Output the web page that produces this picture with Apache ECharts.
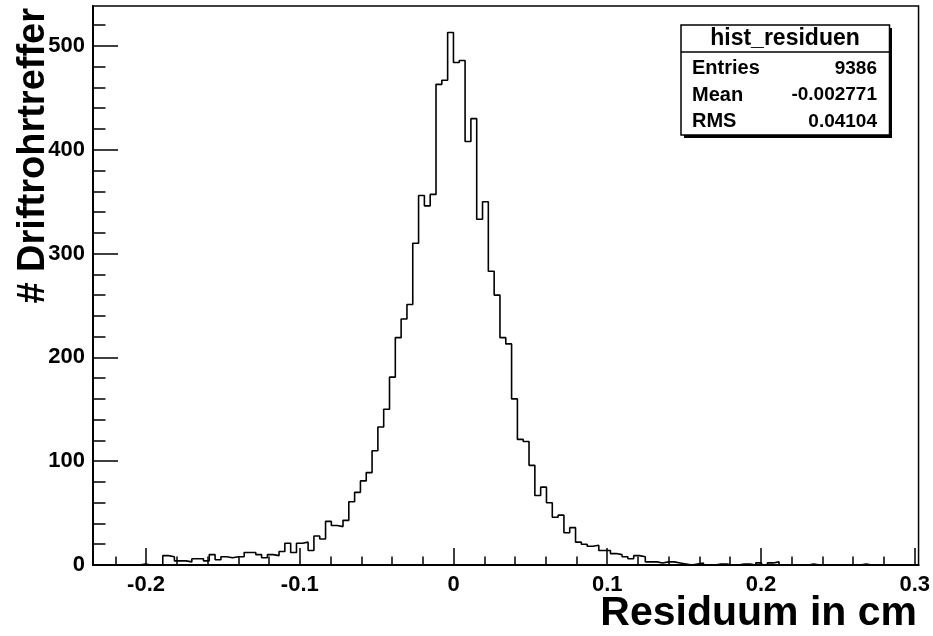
<!DOCTYPE html>
<html>
<head>
<meta charset="utf-8">
<script src="https://cdn.jsdelivr.net/npm/echarts@6/dist/echarts.min.js"></script>
<style>
html,body{margin:0;padding:0;background:#fff;}
#chart{width:933px;height:636px;}
</style>
</head>
<body>
<div id="chart"></div>
<script>
// ---- data ----
const binMin = -0.2345;
const binMax = 0.3025;
const nBins = 142;
const counts = [
  0,0,0,0,0,0,0,0,1,0,0,0,9,8,4,4,3,6,6,4,
  10,5,8,7,8,8,12,12,10,7,10,9,13,21,12,21,22,14,28,25,
  42,38,37,43,61,70,81,89,110,133,150,181,219,237,251,310,356,346,357,463,
  467,513,484,486,408,430,333,350,283,260,219,213,160,121,119,96,67,75,60,46,
  48,31,36,22,20,18,19,14,14,11,10,8,6,9,8,3,3,2,3,3,
  2,1,0,1,2,0,0,1,1,0,0,1,1,0,2,0,2,3,0,0,
  0,0,0,1,0,0,0,0,0,0,0,0,1,0,0,0,0,0,0,0,
  0,0
];
const xTicks = [-0.2, -0.1, 0, 0.1, 0.2, 0.3];
const xMinorTicks = [-0.22,-0.18,-0.16,-0.14,-0.12,-0.08,-0.06,-0.04,-0.02,0.02,0.04,0.06,0.08,0.12,0.14,0.16,0.18,0.22,0.24,0.26,0.28];
const yTicks = [0, 100, 200, 300, 400, 500];
const yMinorTicks = [20,40,60,80,120,140,160,180,220,240,260,280,320,340,360,380,420,440,460,480,520];
const yMax = 538.5;
const statsTitle = 'hist_residuen';
const statsRows = [['Entries', '9386'], ['Mean', '-0.002771'], ['RMS', '0.04104']];
const xTitle = 'Residuum in cm';
const yTitle = '# Driftrohrtreffer';

// ---- build ----
const binW = (binMax - binMin) / nBins;
const stepData = counts.map((c, i) => [binMin + i * binW, c]);
stepData.push([binMax, counts[counts.length - 1]]);

const FONT = '"Liberation Sans", Arial, Helvetica, sans-serif';
const chart = echarts.init(document.getElementById('chart'), null, {renderer: 'canvas'});

const gridL = 93, gridT = 6, gridR = 14, gridB = 71;

function fmtX(v) {
  const r = Math.round(v * 10) / 10;
  return r === 0 ? '0' : String(r);
}

const option = {
  animation: false,
  backgroundColor: '#fff',
  grid: {left: gridL, top: gridT, right: gridR, bottom: gridB, show: true, borderColor: '#000', borderWidth: 1.5, backgroundColor: 'transparent'},
  xAxis: [{
    type: 'value', min: binMin, max: binMax,
    axisLine: {show: true, onZero: false, lineStyle: {color: '#000', width: 2}},
    axisTick: {show: true, inside: true, length: 17, lineStyle: {color: '#000', width: 1.5}, customValues: xTicks},
    axisLabel: {show: true, customValues: xTicks, formatter: fmtX, color: '#000', fontFamily: FONT, fontWeight: 'bold', fontSize: 22, margin: 9},
    splitLine: {show: false}
  }, {
    type: 'value', min: binMin, max: binMax, position: 'bottom',
    axisLine: {show: false, onZero: false},
    axisTick: {show: true, inside: true, length: 8.5, lineStyle: {color: '#000', width: 1.5}, customValues: xMinorTicks},
    axisLabel: {show: false},
    splitLine: {show: false}
  }],
  yAxis: [{
    type: 'value', min: 0, max: yMax,
    axisLine: {show: true, onZero: false, lineStyle: {color: '#000', width: 2}},
    axisTick: {show: true, inside: true, length: 25, lineStyle: {color: '#000', width: 1.5}, customValues: yTicks},
    axisLabel: {show: true, customValues: yTicks, color: '#000', fontFamily: FONT, fontWeight: 'bold', fontSize: 22, margin: 8},
    splitLine: {show: false}
  }, {
    type: 'value', min: 0, max: yMax, position: 'left',
    axisLine: {show: false, onZero: false},
    axisTick: {show: true, inside: true, length: 12.5, lineStyle: {color: '#000', width: 1.5}, customValues: yMinorTicks},
    axisLabel: {show: false},
    splitLine: {show: false}
  }],
  series: [{
    type: 'line',
    xAxisIndex: 0, yAxisIndex: 0,
    step: 'end',
    data: stepData,
    symbol: 'none',
    clip: true,
    lineStyle: {color: '#000', width: 1.6},
    z: 5
  }],
  graphic: [
    {type: 'text', x: 917, y: 614, style: {text: xTitle, font: 'bold 41px ' + FONT, fill: '#000', align: 'right', verticalAlign: 'middle'}},
    {type: 'text', x: 34, y: 8, rotation: Math.PI / 2, style: {text: yTitle, font: 'bold 38px ' + FONT, fill: '#000', align: 'right', verticalAlign: 'middle'}},
    // stats box shadow and frame
    {type: 'rect', shape: {x: 684, y: 28, width: 208, height: 110}, style: {fill: '#000'}, z: 10},
    {type: 'rect', shape: {x: 681, y: 25, width: 208.5, height: 110}, style: {fill: '#fff', stroke: '#000', lineWidth: 1.5}, z: 11},
    {type: 'line', shape: {x1: 681, y1: 52, x2: 889.5, y2: 52}, style: {stroke: '#000', lineWidth: 1.5}, z: 12},
    {type: 'text', x: 785, y: 38.5, style: {text: statsTitle, font: 'bold 23px ' + FONT, fill: '#000', align: 'center', verticalAlign: 'middle'}, z: 12},
    ...statsRows.flatMap((r, i) => [
      {type: 'text', x: 692, y: 68.5 + i * 26.7, style: {text: r[0], font: 'bold 20px ' + FONT, fill: '#000', align: 'left', verticalAlign: 'middle'}, z: 12},
      {type: 'text', x: 877, y: 68.5 + i * 26.7, style: {text: r[1], font: 'bold 19px ' + FONT, fill: '#000', align: 'right', verticalAlign: 'middle'}, z: 12}
    ])
  ]
};
chart.setOption(option);
</script>
</body>
</html>
